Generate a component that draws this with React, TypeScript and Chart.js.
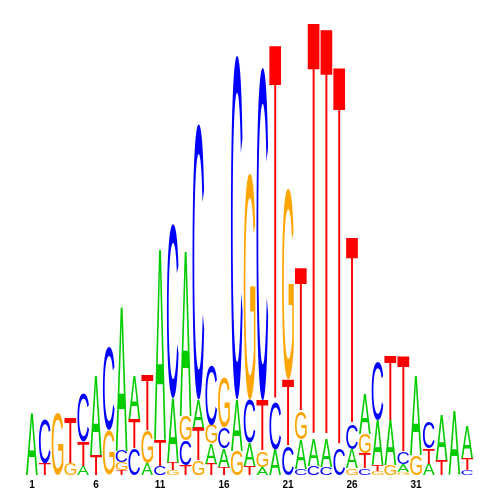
import React, { useEffect, useRef } from "react";
import { Chart, registerables } from "chart.js";

Chart.register(...registerables);

// Positions along the motif
const positions = ["1","2","3","4","5","6","7","8","9","10","11","12","13","14","15","16","17","18","19","20","21","22","23","24","25","26","27","28","29","30","31","32","33","34","35"];

// Letter heights (bits) per position
const heightA = [0.271,0,0,0,0.040,0.351,0,0.631,0.191,0.053,0.840,0.284,0.724,0.124,0.089,0.080,0.227,0.102,0.036,0.111,0,0.129,0.120,0.124,0,0.084,0.173,0.200,0.196,0.036,0.351,0.049,0.196,0.280,0.142];
const heightC = [0,0.200,0,0,0.213,0,0.369,0.049,0.116,0,0.040,0.769,0.107,1.218,0.262,0.093,1.520,0.191,1.471,0.209,0.129,0.027,0.040,0.036,0.116,0.107,0.031,0.253,0,0.053,0,0.116,0,0,0.022];
const heightG = [0,0,0.271,0.049,0,0,0.196,0.036,0,0.142,0,0.022,0.111,0.062,0.084,0.222,0.107,1.000,0.071,0,0.844,0.120,0,0,0,0.031,0.084,0.018,0.044,0.013,0.089,0,0,0,0];
const heightT = [0,0.049,0,0.200,0.107,0.089,0,0.022,0.133,0.244,0.116,0.031,0.044,0.147,0.049,0.036,0,0.040,0.222,1.578,0.293,0.636,1.836,1.809,1.684,0.827,0.067,0.027,0.284,0.427,0,0.067,0.067,0,0.053];

// Stacking order per position, top to bottom
const stackOrder = ["A","CT","G","TG","CTA","AT","CG","ACGT","ATC","TGA","ATC","CATG","AGCT","CATG","CGAT","GCAT","CAG","GCAT","CTGA","TCA","GTC","TGAC","TAC","TAC","TC","TCAG","AGTC","CATG","TAG","TCAG","AG","CTA","AT","A","ATC"];

// Tick labels shown every fifth position
const tickEvery = 5;

const letterColors: Record<string, string> = {
  A: "#00cc00",
  C: "#0000ff",
  G: "#ffa500",
  T: "#ff0000",
};

const heightsByLetter: Record<string, number[]> = { A: heightA, C: heightC, G: heightG, T: heightT };

const glyphFont = '100px "Liberation Sans"';

const logoPlugin = {
  id: "logoGlyphs",
  afterDatasetsDraw(chart: any) {
    const ctx: CanvasRenderingContext2D = chart.ctx;
    ctx.save();
    ctx.font = glyphFont;
    ctx.textAlign = "left";
    ctx.textBaseline = "alphabetic";
    chart.data.datasets.forEach((ds: any, di: number) => {
      const meta = chart.getDatasetMeta(di);
      meta.data.forEach((el: any, i: number) => {
        const letter = ds.letters[i];
        const v = ds.data[i];
        if (!letter || !v) return;
        const p = el.getProps(["x", "y", "base", "width"], true);
        const top = Math.min(p.y, p.base);
        const h = Math.abs(p.base - p.y);
        const w = p.width;
        const left = p.x - w / 2;
        if (h <= 0.05) return;
        const m = ctx.measureText(letter);
        const gl = m.actualBoundingBoxLeft;
        const gr = m.actualBoundingBoxRight;
        const ga = m.actualBoundingBoxAscent;
        const gd = m.actualBoundingBoxDescent;
        ctx.save();
        ctx.translate(left, top);
        ctx.scale(w / (gl + gr), h / (ga + gd));
        ctx.fillStyle = letterColors[letter];
        ctx.fillText(letter, gl, ga);
        ctx.restore();
      });
    });
    ctx.restore();
  },
};

export default function App() {
  const canvasRef = useRef<HTMLCanvasElement | null>(null);

  useEffect(() => {
    if (!canvasRef.current) return;
    const ranks = [0, 1, 2, 3];
    const datasets = ranks.map((r) => {
      const letters = stackOrder.map((s) => {
        const bottomUp = s.split("").reverse();
        return bottomUp[r] || "";
      });
      const data = letters.map((L, i) => (L ? heightsByLetter[L][i] : 0));
      return {
        label: "rank" + r,
        data,
        letters,
        backgroundColor: "rgba(0,0,0,0)",
        borderWidth: 0,
        barPercentage: 0.92,
        categoryPercentage: 1,
        stack: "logo",
      } as any;
    });

    const chart = new Chart(canvasRef.current, {
      type: "bar",
      data: { labels: positions, datasets },
      options: {
        animation: false,
        responsive: false,
        devicePixelRatio: 1,
        layout: { padding: { left: 25.6, right: 26.4, top: 22, bottom: 5 } },
        plugins: { legend: { display: false }, tooltip: { enabled: false } },
        scales: {
          x: {
            stacked: true,
            grid: { display: false, drawTicks: false },
            border: { display: false },
            ticks: {
              autoSkip: false,
              maxRotation: 0,
              padding: 4,
              color: "#000",
              font: { family: '"Liberation Sans", Arial, sans-serif', size: 10, weight: "bold" },
              callback: (_v: any, idx: number) => (idx % tickEvery === 0 ? positions[idx] : ""),
            },
          },
          y: {
            stacked: true,
            display: false,
            min: 0,
            max: 2,
          },
        },
      },
      plugins: [logoPlugin],
    });
    return () => chart.destroy();
  }, []);

  return (
    <div style={{ position: "absolute", left: 0, top: 0, width: 500, height: 500, background: "#fff" }}>
      <canvas ref={canvasRef} width={500} height={500} style={{ display: "block" }} />
    </div>
  );
}
